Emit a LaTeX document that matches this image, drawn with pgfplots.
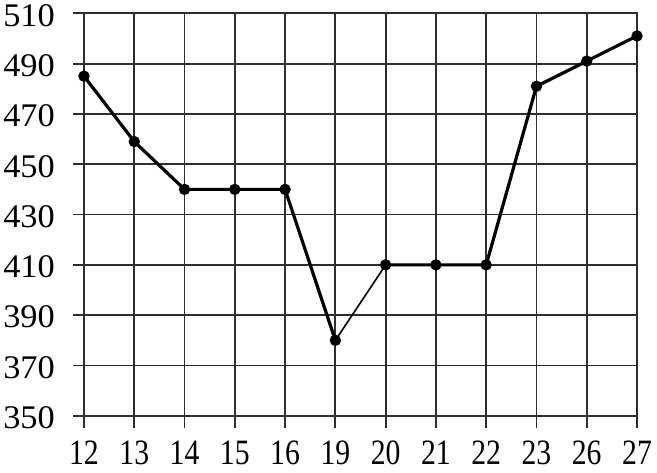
\documentclass[border=0pt]{standalone}
\usepackage{fontspec}
\setmainfont{Liberation Serif}
\usepackage{pgfplots}
\pgfplotsset{compat=1.18}
\begin{document}
\begin{tikzpicture}
\begin{axis}[
  at={(0pt,0pt)}, anchor=south west,
  scale only axis,
  width=553pt, height=402.5pt,
  xmin=0, xmax=11, ymin=350, ymax=510,
  xtick={0,...,11},
  xticklabels={12,13,14,15,16,19,20,21,22,23,26,27},
  ytick={350,370,...,510},
  grid=major,
  grid style={line width=1.8pt, black!82},
  axis line style={line width=1.8pt, black!82},
  xtick pos=left, ytick pos=left,
  tick align=inside,
  major tick length=0pt,
  /pgf/number format/assume math mode=true,
  ticklabel style={font=\fontsize{33}{33}\selectfont, inner sep=0pt},
  yticklabel style={anchor=east, xshift=-29pt, yshift=-2pt, xscale=1.04},
  xticklabel style={anchor=base, text height=0pt, yshift=-49pt, xscale=0.9, yscale=1.08},
  clip=false,
]
\pgfplotsinvokeforeach{0,...,11}{
  \draw[line width=1.8pt, black!82] (axis cs:#1,350) -- ++(0pt,-12pt);
}
\pgfplotsinvokeforeach{350,370,...,510}{
  \draw[line width=1.8pt, black!82] (axis cs:0,#1) -- ++(-11pt,0pt);
}
\addplot[black, line width=3.2pt, mark=*, mark size=4pt] coordinates {
  (0,485) (1,459) (2,440) (3,440) (4,440) (5,380)
};
\addplot[black, line width=1.6pt, mark=*, mark size=4pt] coordinates {
  (5,380) (6,410)
};
\addplot[black, line width=3.2pt, mark=*, mark size=4pt] coordinates {
  (6,410) (7,410) (8,410) (9,481) (10,491) (11,501)
};
\end{axis}
\pgfresetboundingbox
\path[use as bounding box] (-84pt,-56.5pt) rectangle (573pt,415.8pt);
\end{tikzpicture}
\end{document}
